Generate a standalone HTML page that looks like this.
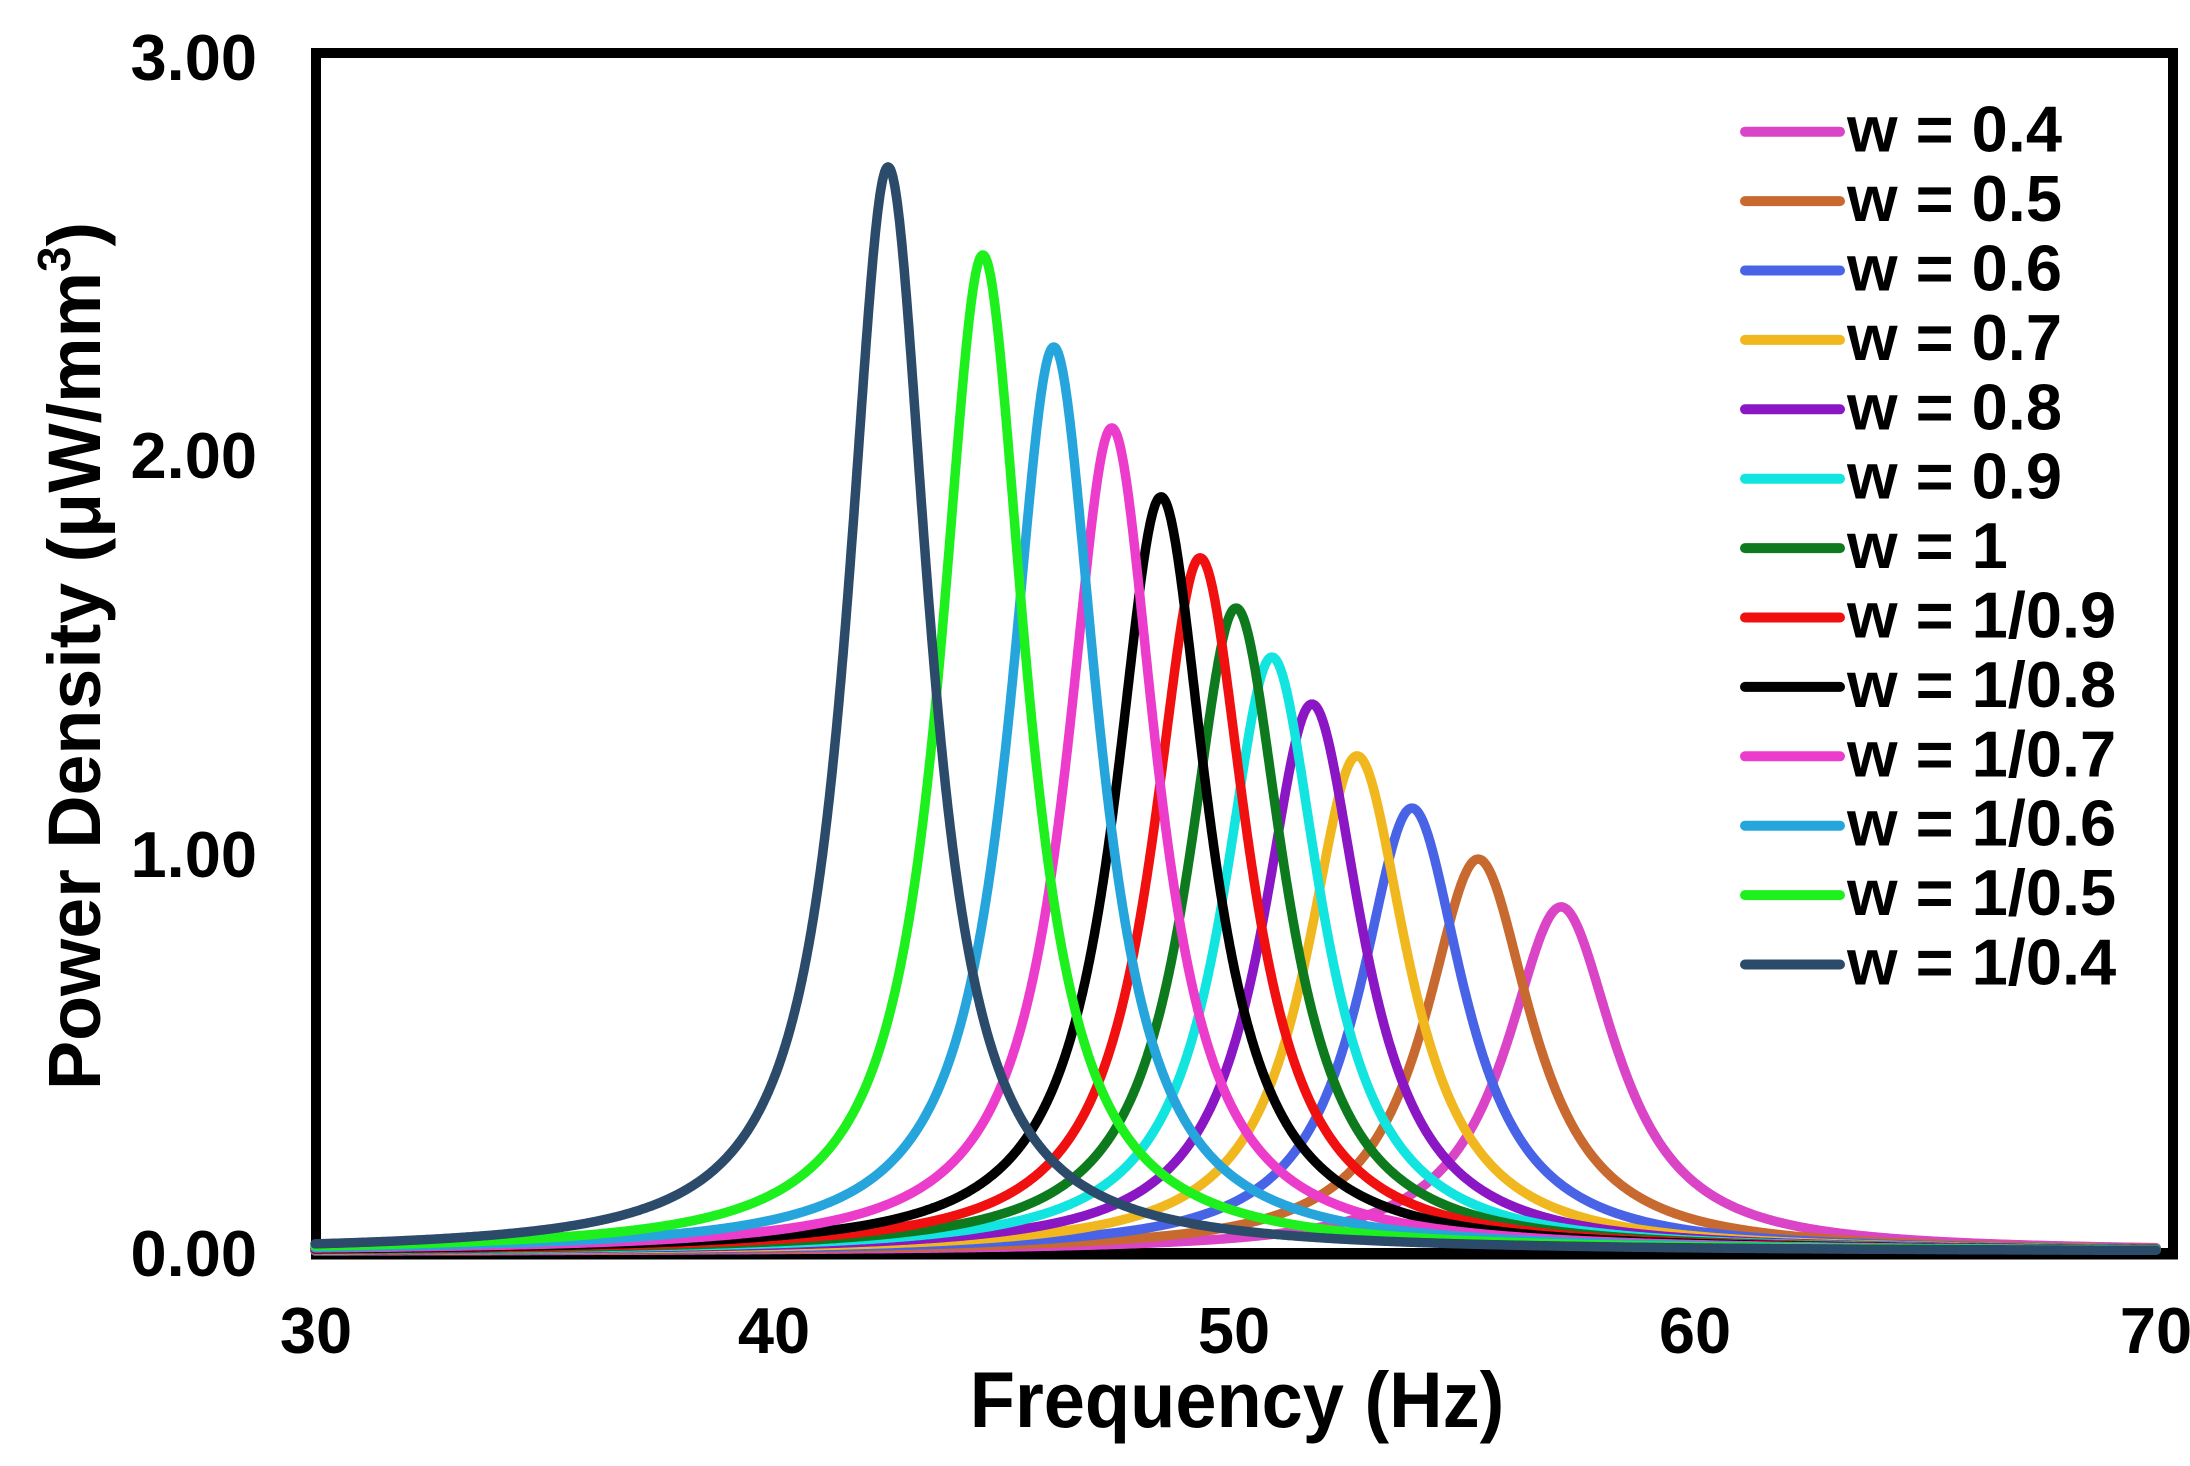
<!DOCTYPE html>
<html>
<head>
<meta charset="utf-8">
<style>
html,body{margin:0;padding:0;background:#fff;}
svg{display:block;}
text{font-family:"Liberation Sans",Arial,sans-serif;font-weight:bold;fill:#000;}
</style>
</head>
<body>
<svg id="chart" xmlns="http://www.w3.org/2000/svg" width="2190" height="1466" viewBox="0 0 2190 1466">
<rect x="0" y="0" width="2190" height="1466" fill="#fff"/>
<!-- plot frame -->
<rect x="316" y="53" width="1857" height="1200" fill="none" stroke="#000" stroke-width="10"/>
<line x1="311" y1="1254" x2="2178" y2="1254" stroke="#000" stroke-width="11"/>
<g id="curves" fill="none" stroke-width="9.5" stroke-linejoin="round" stroke-linecap="round"></g>

<!-- y tick labels -->
<g font-size="65" text-anchor="end">
<text x="257" y="80">3.00</text>
<text x="257" y="478">2.00</text>
<text x="257" y="877">1.00</text>
<text x="257" y="1276">0.00</text>
</g>
<!-- x tick labels -->
<g font-size="65" text-anchor="middle">
<text x="316" y="1353">30</text>
<text x="774" y="1353">40</text>
<text x="1234" y="1353">50</text>
<text x="1695" y="1353">60</text>
<text x="2156" y="1353">70</text>
</g>
<!-- axis titles -->
<text font-size="74" text-anchor="middle" transform="translate(1237,1427) scale(1,1.07)">Frequency (Hz)</text>
<text font-size="74" text-anchor="middle" transform="translate(100,656) rotate(-90)" textLength="868" lengthAdjust="spacingAndGlyphs">Power Density (μW/mm<tspan font-size="46" dy="-30">3</tspan><tspan dy="30">)</tspan></text>

<!-- legend -->
<g stroke-width="10" stroke-linecap="round">
<line x1="1745" y1="131.7" x2="1840" y2="131.7" stroke="#DA44C6"/>
<line x1="1745" y1="201.1" x2="1840" y2="201.1" stroke="#C8692F"/>
<line x1="1745" y1="270.5" x2="1840" y2="270.5" stroke="#4863E6"/>
<line x1="1745" y1="339.9" x2="1840" y2="339.9" stroke="#F0B81E"/>
<line x1="1745" y1="409.3" x2="1840" y2="409.3" stroke="#8A16C4"/>
<line x1="1745" y1="478.7" x2="1840" y2="478.7" stroke="#12E4E0"/>
<line x1="1745" y1="548.1" x2="1840" y2="548.1" stroke="#0E7A1E"/>
<line x1="1745" y1="617.5" x2="1840" y2="617.5" stroke="#F01010"/>
<line x1="1745" y1="686.9" x2="1840" y2="686.9" stroke="#000000"/>
<line x1="1745" y1="756.3" x2="1840" y2="756.3" stroke="#EC3CCB"/>
<line x1="1745" y1="825.7" x2="1840" y2="825.7" stroke="#25A5DC"/>
<line x1="1745" y1="895.1" x2="1840" y2="895.1" stroke="#1EF01E"/>
<line x1="1745" y1="964.5" x2="1840" y2="964.5" stroke="#2C4B6B"/>
</g>
<g font-size="65">
<text x="1847" y="151.7">w = 0.4</text>
<text x="1847" y="221.1">w = 0.5</text>
<text x="1847" y="290.5">w = 0.6</text>
<text x="1847" y="359.9">w = 0.7</text>
<text x="1847" y="429.3">w = 0.8</text>
<text x="1847" y="498.7">w = 0.9</text>
<text x="1847" y="568.1">w = 1</text>
<text x="1847" y="637.5">w = 1/0.9</text>
<text x="1847" y="706.9">w = 1/0.8</text>
<text x="1847" y="776.3">w = 1/0.7</text>
<text x="1847" y="845.7">w = 1/0.6</text>
<text x="1847" y="915.1">w = 1/0.5</text>
<text x="1847" y="984.5">w = 1/0.4</text>
</g>
</svg>
<script>
(function(){
  var series=[
    [57.07,0.866,'#DA44C6'],
    [55.27,0.986,'#C8692F'],
    [53.83,1.114,'#4863E6'],
    [52.64,1.245,'#F0B81E'],
    [51.66,1.375,'#8A16C4'],
    [50.79,1.493,'#12E4E0'],
    [50.01,1.616,'#0E7A1E'],
    [49.23,1.742,'#F01010'],
    [48.38,1.895,'#000000'],
    [47.31,2.068,'#EC3CCB'],
    [46.05,2.271,'#25A5DC'],
    [44.51,2.502,'#1EF01E'],
    [42.45,2.723,'#2C4B6B']
  ];
  var g=document.getElementById('curves');
  var ns='http://www.w3.org/2000/svg';
  for(var i=0;i<series.length;i++){
    var f0=series[i][0],pk=series[i][1],col=series[i][2];
    var gam=0.0255*f0;
    var d='';
    for(var k=0;k<=1600;k++){
      var f=30+k*0.025;
      var t=(f-f0)/gam;
      var v=pk/(1+t*t);
      var x=315+(f-30)*46.03;
      var y=1252-398.5*v;
      d+=(k===0?'M':'L')+x.toFixed(1)+' '+y.toFixed(1);
    }
    var p=document.createElementNS(ns,'path');
    p.setAttribute('d',d);
    p.setAttribute('stroke',col);
    g.appendChild(p);
  }
})();
</script>
</body>
</html>
